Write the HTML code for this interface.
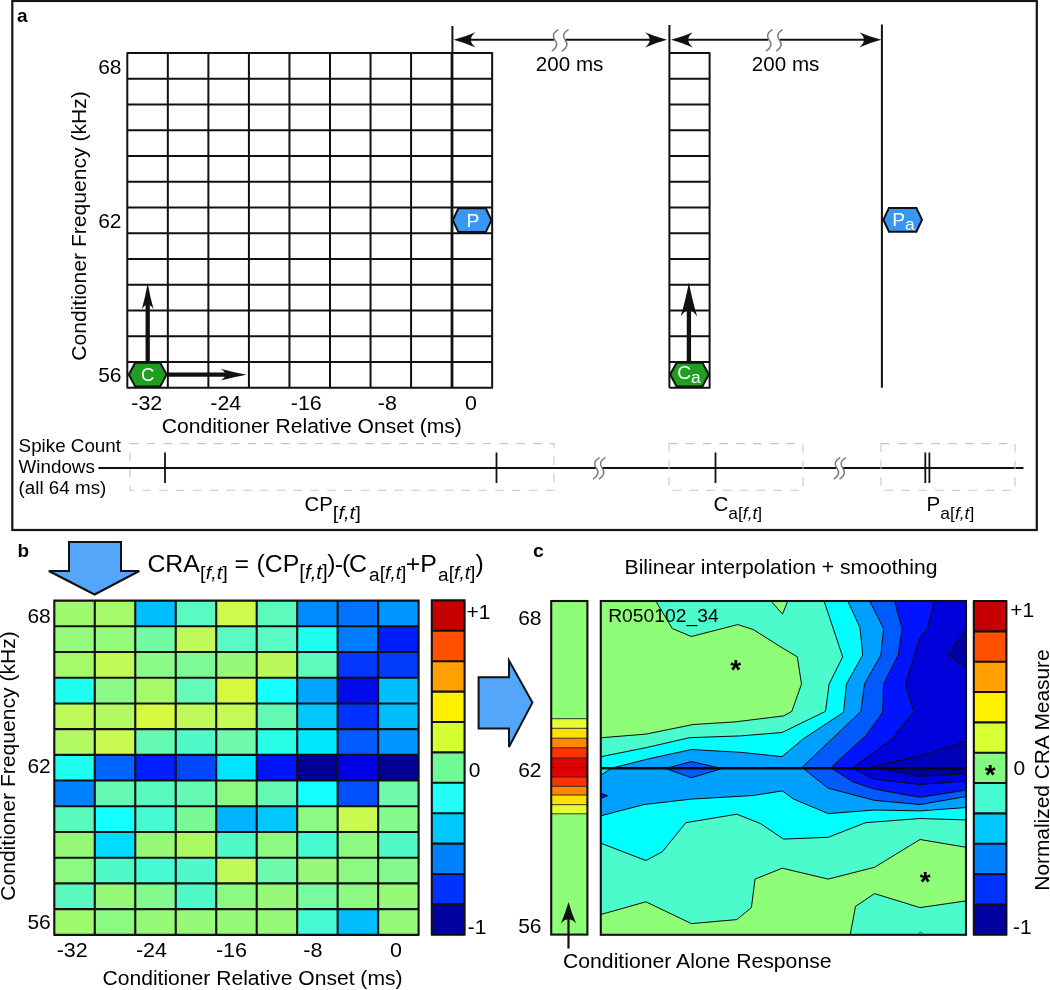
<!DOCTYPE html>
<html lang="en"><head><meta charset="utf-8"><title>Figure</title>
<style>html,body{margin:0;padding:0;background:#fff}svg{display:block}text{font-family:"Liberation Sans", Arial, sans-serif;fill:#000}</style></head><body>
<svg width="1050" height="990" viewBox="0 0 1050 990">
<rect x="0" y="0" width="1050" height="990" fill="#fff"/>
<g id="panel-a">
<rect x="12.3" y="1" width="1024.5" height="529" fill="none" stroke="#151515" stroke-width="2.2"/>
<text transform="translate(17.0 22.0) scale(1.050 1)" font-size="18.10" text-anchor="start" font-weight="bold">a</text>
<path d="M127.30 52.90V387.65M167.84 52.90V387.65M208.38 52.90V387.65M248.92 52.90V387.65M289.46 52.90V387.65M330.00 52.90V387.65M370.54 52.90V387.65M411.08 52.90V387.65M451.62 52.90V387.65M492.16 52.90V387.65M126.55 52.90H492.91M126.55 78.65H492.91M126.55 104.40H492.91M126.55 130.15H492.91M126.55 155.90H492.91M126.55 181.65H492.91M126.55 207.40H492.91M126.55 233.15H492.91M126.55 258.90H492.91M126.55 284.65H492.91M126.55 310.40H492.91M126.55 336.15H492.91M126.55 361.90H492.91M126.55 387.65H492.91" fill="none" stroke="#111" stroke-width="2.0"/>
<path d="M709.60 52.90V387.65M669.40 52.90H710.35M669.40 78.65H710.35M669.40 104.40H710.35M669.40 130.15H710.35M669.40 155.90H710.35M669.40 181.65H710.35M669.40 207.40H710.35M669.40 233.15H710.35M669.40 258.90H710.35M669.40 284.65H710.35M669.40 310.40H710.35M669.40 336.15H710.35M669.40 361.90H710.35M669.40 387.65H710.35" fill="none" stroke="#111" stroke-width="2.0"/>
<path d="M452.4 26V387.65M669.40 25V387.65M881.9 24.5V387.65" fill="none" stroke="#111" stroke-width="2.0"/>
<path d="M470.1 39.8H650.5" stroke="#111" stroke-width="2.0" fill="none"/>
<path d="M453.60 39.80Q465.70 36.53 475.60 32.20Q470.30 36.38 471.10 39.80Q470.30 43.22 475.60 47.40Q465.70 43.07 453.60 39.80Z" fill="#111"/>
<path d="M667.00 39.80Q654.90 43.07 645.00 47.40Q650.30 43.22 649.50 39.80Q650.30 36.38 645.00 32.20Q654.90 36.53 667.00 39.80Z" fill="#111"/>
<path d="M687.5 39.8H864.7" stroke="#111" stroke-width="2.0" fill="none"/>
<path d="M671.00 39.80Q683.10 36.53 693.00 32.20Q687.70 36.38 688.50 39.80Q687.70 43.22 693.00 47.40Q683.10 43.07 671.00 39.80Z" fill="#111"/>
<path d="M881.20 39.80Q869.10 43.07 859.20 47.40Q864.50 43.22 863.70 39.80Q864.50 36.38 859.20 32.20Q869.10 36.53 881.20 39.80Z" fill="#111"/>
<rect x="554.0" y="36" width="11.6" height="8" fill="#fff"/>
<path d="M557.8 29.8C552.8 32.8 552.4 36.8 554.8 39.8C557.8 43.8 557.4 47.3 552.2 50.8" fill="none" stroke="#7c7c7c" stroke-width="1.5" stroke-linecap="round"/>
<path d="M568.0 29.8C563.0 32.8 562.6 36.8 565.0 39.8C568.0 43.8 567.6 47.3 562.4 50.8" fill="none" stroke="#7c7c7c" stroke-width="1.5" stroke-linecap="round"/>
<rect x="768.2" y="36" width="11.6" height="8" fill="#fff"/>
<path d="M772.0 29.8C767.0 32.8 766.6 36.8 769.0 39.8C772.0 43.8 771.6 47.3 766.4 50.8" fill="none" stroke="#7c7c7c" stroke-width="1.5" stroke-linecap="round"/>
<path d="M782.2 29.8C777.2 32.8 776.8 36.8 779.2 39.8C782.2 43.8 781.8 47.3 776.6 50.8" fill="none" stroke="#7c7c7c" stroke-width="1.5" stroke-linecap="round"/>
<text transform="translate(569.6 71.0) scale(1.050 1)" font-size="19.62" text-anchor="middle" >200 ms</text>
<text transform="translate(785.6 71.0) scale(1.050 1)" font-size="19.62" text-anchor="middle" >200 ms</text>
<path d="M452.8 220.2L458.4 208.3H485.8L491.4 220.2L485.8 232.1H458.4Z" fill="#3897f3" stroke="#111" stroke-width="2.0" stroke-linejoin="miter"/>
<text transform="translate(472.9 227.0) scale(1.050 1)" font-size="18.48" text-anchor="middle" style="fill:#fff">P</text>
<path d="M883.4 219.8L889.0 207.9H916.4L922.0 219.8L916.4 231.7H889.0Z" fill="#3897f3" stroke="#111" stroke-width="2.0" stroke-linejoin="miter"/>
<text transform="translate(892.3 225.7) scale(1.050 1)" font-size="18.29" text-anchor="start" style="fill:#fff">P<tspan dy="3.8" font-size="16.6">a</tspan></text>
<path d="M128.8 374.6L135.2 362.8H160.2L166.6 374.6L160.2 386.4H135.2Z" fill="#1f9f1f" stroke="#111" stroke-width="2.0" stroke-linejoin="miter"/>
<text transform="translate(147.7 381.3) scale(1.050 1)" font-size="17.62" text-anchor="middle" style="fill:#fff">C</text>
<path d="M147.7 362.5V303.8" stroke="#111" stroke-width="4.3" fill="none"/>
<path d="M147.70 283.30Q150.24 297.60 153.60 309.30Q150.35 304.00 147.70 304.80Q145.04 304.00 141.80 309.30Q145.16 297.60 147.70 283.30Z" fill="#111"/>
<path d="M167 374.7H226" stroke="#111" stroke-width="4.3" fill="none"/>
<path d="M246.50 374.70Q232.20 377.24 220.50 380.60Q225.80 377.35 225.00 374.70Q225.80 372.05 220.50 368.80Q232.20 372.16 246.50 374.70Z" fill="#111"/>
<path d="M670.2 374.6L676.6 362.8H702.4L708.8 374.6L702.4 386.4H676.6Z" fill="#1f9f1f" stroke="#111" stroke-width="2.0" stroke-linejoin="miter"/>
<text transform="translate(677.2 379.4) scale(1.050 1)" font-size="18.29" text-anchor="start" style="fill:#fff">C<tspan dy="3.8" font-size="16.6">a</tspan></text>
<path d="M688.9 362.5V309.5" stroke="#111" stroke-width="4.3" fill="none"/>
<path d="M688.90 282.50Q692.47 301.20 697.20 316.50Q692.63 309.70 688.90 310.50Q685.16 309.70 680.60 316.50Q685.33 301.20 688.90 282.50Z" fill="#111"/>
<text transform="translate(121.5 73.5) scale(1.050 1)" font-size="20.00" text-anchor="end" >68</text>
<text transform="translate(121.5 228.0) scale(1.050 1)" font-size="20.00" text-anchor="end" >62</text>
<text transform="translate(121.5 382.0) scale(1.050 1)" font-size="20.00" text-anchor="end" >56</text>
<text transform="translate(146.7 409.8) scale(1.050 1)" font-size="20.38" text-anchor="middle" >-32</text>
<text transform="translate(225.7 409.8) scale(1.050 1)" font-size="20.38" text-anchor="middle" >-24</text>
<text transform="translate(306.2 409.8) scale(1.050 1)" font-size="20.38" text-anchor="middle" >-16</text>
<text transform="translate(387.3 409.8) scale(1.050 1)" font-size="20.38" text-anchor="middle" >-8</text>
<text transform="translate(470.9 409.8) scale(1.050 1)" font-size="20.38" text-anchor="middle" >0</text>
<text transform="translate(311.8 432.6) scale(1.050 1)" font-size="20.10" text-anchor="middle" >Conditioner Relative Onset (ms)</text>
<text transform="translate(85.6 226.0) rotate(-90) scale(1.050 1)" font-size="20.10" text-anchor="middle">Conditioner Frequency (kHz)</text>
<text transform="translate(18.6 451.6) scale(1.050 1)" font-size="17.90" text-anchor="start" >Spike Count</text>
<text transform="translate(18.6 472.9) scale(1.050 1)" font-size="17.90" text-anchor="start" >Windows</text>
<text transform="translate(18.6 494.1) scale(1.050 1)" font-size="17.90" text-anchor="start" >(all 64 ms)</text>
<path d="M98.3 468H1023.5" stroke="#111" stroke-width="1.9" fill="none"/>
<path d="M165 452.5V483M496.5 452.5V483M715.5 452.5V483M925.3 452.5V483M929.4 452.5V483" stroke="#111" stroke-width="1.8" fill="none"/>
<rect x="130.0" y="443.6" width="424.0" height="46.6" fill="none" stroke="#c6c6c6" stroke-width="1.1" stroke-dasharray="8.6 8.2"/>
<rect x="669.0" y="443.6" width="134.0" height="46.6" fill="none" stroke="#c6c6c6" stroke-width="1.1" stroke-dasharray="8.6 8.2"/>
<rect x="881.0" y="443.6" width="134.0" height="46.6" fill="none" stroke="#c6c6c6" stroke-width="1.1" stroke-dasharray="8.6 8.2"/>
<rect x="596.2" y="465" width="6" height="6" fill="#fff"/>
<path d="M599.1 457.8C594.1 460.8 593.7 464.8 596.1 467.8C599.1 471.8 598.7 475.3 593.5 478.8" fill="none" stroke="#7c7c7c" stroke-width="1.5" stroke-linecap="round"/>
<path d="M604.9 457.8C599.9 460.8 599.5 464.8 601.9 467.8C604.9 471.8 604.5 475.3 599.3 478.8" fill="none" stroke="#7c7c7c" stroke-width="1.5" stroke-linecap="round"/>
<rect x="836.8" y="465" width="6" height="6" fill="#fff"/>
<path d="M839.7 457.8C834.7 460.8 834.3 464.8 836.7 467.8C839.7 471.8 839.3 475.3 834.1 478.8" fill="none" stroke="#7c7c7c" stroke-width="1.5" stroke-linecap="round"/>
<path d="M845.5 457.8C840.5 460.8 840.1 464.8 842.5 467.8C845.5 471.8 845.1 475.3 839.9 478.8" fill="none" stroke="#7c7c7c" stroke-width="1.5" stroke-linecap="round"/>
<text transform="translate(304.6 511.4) scale(1.050 1)" font-size="19.33" text-anchor="start" >CP<tspan dy="7.5" font-size="19.2">[<tspan font-style="italic">f,t</tspan>]</tspan></text>
<text transform="translate(713.4 511.2) scale(1.050 1)" font-size="19.62" text-anchor="start" >C<tspan dy="8.2" font-size="16.6">a[<tspan font-style="italic">f,t</tspan>]</tspan></text>
<text transform="translate(926.6 511.2) scale(1.050 1)" font-size="19.62" text-anchor="start" >P<tspan dy="8.2" font-size="16.6">a[<tspan font-style="italic">f,t</tspan>]</tspan></text>
</g>
<g id="panel-b">
<text transform="translate(17.5 557.0) scale(1.050 1)" font-size="18.10" text-anchor="start" font-weight="bold">b</text>
<path d="M69 542H121V571H139.3L94.6 594.5L48.8 571H69Z" fill="#54a6fb" stroke="#111" stroke-width="2.0" stroke-linejoin="miter"/>
<text id="eq" transform="scale(1.045 1)" font-size="23.83"><tspan x="141.05" y="572.4">CRA</tspan><tspan x="191.48" y="578.8" font-size="19.04">[<tspan font-style="italic">f,t</tspan>]</tspan><tspan x="224.50" y="572.4">=</tspan><tspan x="245.45" y="572.4">(CP</tspan><tspan x="286.32" y="578.8" font-size="19.71">[<tspan font-style="italic">f,t</tspan>]</tspan><tspan x="313.21" y="572.4">)</tspan><tspan x="320.29" y="572.4">-</tspan><tspan x="327.18" y="572.4">(</tspan><tspan x="334.07" y="572.4">C</tspan><tspan x="353.21" y="581.2" font-size="18.18">a</tspan><tspan y="578.8" font-size="18.47">[<tspan font-style="italic">f,t</tspan>]</tspan><tspan x="388.33" y="572.4">+P</tspan><tspan x="419.23" y="581.2" font-size="18.18">a</tspan><tspan y="578.8" font-size="18.47">[<tspan font-style="italic">f,t</tspan>]</tspan><tspan x="455.02" y="572.4">)</tspan></text>
<rect x="54.30" y="600.60" width="40.78" height="26.01" fill="#a0fa6e"/>
<rect x="94.78" y="600.60" width="40.78" height="26.01" fill="#a5fa69"/>
<rect x="135.26" y="600.60" width="40.78" height="26.01" fill="#00beff"/>
<rect x="175.74" y="600.60" width="40.78" height="26.01" fill="#5afac3"/>
<rect x="216.22" y="600.60" width="40.78" height="26.01" fill="#cdfa4b"/>
<rect x="256.70" y="600.60" width="40.78" height="26.01" fill="#5ffabe"/>
<rect x="297.18" y="600.60" width="40.78" height="26.01" fill="#008cff"/>
<rect x="337.66" y="600.60" width="40.78" height="26.01" fill="#0073ff"/>
<rect x="378.14" y="600.60" width="40.78" height="26.01" fill="#0096ff"/>
<rect x="54.30" y="626.31" width="40.78" height="26.01" fill="#96fa7d"/>
<rect x="94.78" y="626.31" width="40.78" height="26.01" fill="#96fa7d"/>
<rect x="135.26" y="626.31" width="40.78" height="26.01" fill="#73faa5"/>
<rect x="175.74" y="626.31" width="40.78" height="26.01" fill="#befa5a"/>
<rect x="216.22" y="626.31" width="40.78" height="26.01" fill="#5afac3"/>
<rect x="256.70" y="626.31" width="40.78" height="26.01" fill="#5afac3"/>
<rect x="297.18" y="626.31" width="40.78" height="26.01" fill="#1efff0"/>
<rect x="337.66" y="626.31" width="40.78" height="26.01" fill="#007dff"/>
<rect x="378.14" y="626.31" width="40.78" height="26.01" fill="#001efa"/>
<rect x="54.30" y="652.02" width="40.78" height="26.01" fill="#a5fa69"/>
<rect x="94.78" y="652.02" width="40.78" height="26.01" fill="#befa55"/>
<rect x="135.26" y="652.02" width="40.78" height="26.01" fill="#8cfa87"/>
<rect x="175.74" y="652.02" width="40.78" height="26.01" fill="#7dfa96"/>
<rect x="216.22" y="652.02" width="40.78" height="26.01" fill="#96fa78"/>
<rect x="256.70" y="652.02" width="40.78" height="26.01" fill="#b9fa5a"/>
<rect x="297.18" y="652.02" width="40.78" height="26.01" fill="#5ffabe"/>
<rect x="337.66" y="652.02" width="40.78" height="26.01" fill="#0037fa"/>
<rect x="378.14" y="652.02" width="40.78" height="26.01" fill="#003cfa"/>
<rect x="54.30" y="677.73" width="40.78" height="26.01" fill="#1efff0"/>
<rect x="94.78" y="677.73" width="40.78" height="26.01" fill="#8cfa87"/>
<rect x="135.26" y="677.73" width="40.78" height="26.01" fill="#a5fa69"/>
<rect x="175.74" y="677.73" width="40.78" height="26.01" fill="#64fab9"/>
<rect x="216.22" y="677.73" width="40.78" height="26.01" fill="#d7fa41"/>
<rect x="256.70" y="677.73" width="40.78" height="26.01" fill="#14ffff"/>
<rect x="297.18" y="677.73" width="40.78" height="26.01" fill="#00a5ff"/>
<rect x="337.66" y="677.73" width="40.78" height="26.01" fill="#000aeb"/>
<rect x="378.14" y="677.73" width="40.78" height="26.01" fill="#00beff"/>
<rect x="54.30" y="703.44" width="40.78" height="26.01" fill="#befa5a"/>
<rect x="94.78" y="703.44" width="40.78" height="26.01" fill="#b4fa64"/>
<rect x="135.26" y="703.44" width="40.78" height="26.01" fill="#d7fa41"/>
<rect x="175.74" y="703.44" width="40.78" height="26.01" fill="#befa5a"/>
<rect x="216.22" y="703.44" width="40.78" height="26.01" fill="#c3fa55"/>
<rect x="256.70" y="703.44" width="40.78" height="26.01" fill="#64fab4"/>
<rect x="297.18" y="703.44" width="40.78" height="26.01" fill="#00c8ff"/>
<rect x="337.66" y="703.44" width="40.78" height="26.01" fill="#0032ff"/>
<rect x="378.14" y="703.44" width="40.78" height="26.01" fill="#00beff"/>
<rect x="54.30" y="729.15" width="40.78" height="26.01" fill="#b4fa64"/>
<rect x="94.78" y="729.15" width="40.78" height="26.01" fill="#c8fa50"/>
<rect x="135.26" y="729.15" width="40.78" height="26.01" fill="#64fab4"/>
<rect x="175.74" y="729.15" width="40.78" height="26.01" fill="#50fac8"/>
<rect x="216.22" y="729.15" width="40.78" height="26.01" fill="#6efaaa"/>
<rect x="256.70" y="729.15" width="40.78" height="26.01" fill="#28ffe6"/>
<rect x="297.18" y="729.15" width="40.78" height="26.01" fill="#00e6ff"/>
<rect x="337.66" y="729.15" width="40.78" height="26.01" fill="#005aff"/>
<rect x="378.14" y="729.15" width="40.78" height="26.01" fill="#0096ff"/>
<rect x="54.30" y="754.86" width="40.78" height="26.01" fill="#1efff0"/>
<rect x="94.78" y="754.86" width="40.78" height="26.01" fill="#0064ff"/>
<rect x="135.26" y="754.86" width="40.78" height="26.01" fill="#001eff"/>
<rect x="175.74" y="754.86" width="40.78" height="26.01" fill="#0046ff"/>
<rect x="216.22" y="754.86" width="40.78" height="26.01" fill="#00e6ff"/>
<rect x="256.70" y="754.86" width="40.78" height="26.01" fill="#0014fa"/>
<rect x="297.18" y="754.86" width="40.78" height="26.01" fill="#000096"/>
<rect x="337.66" y="754.86" width="40.78" height="26.01" fill="#0000e6"/>
<rect x="378.14" y="754.86" width="40.78" height="26.01" fill="#000096"/>
<rect x="54.30" y="780.57" width="40.78" height="26.01" fill="#0082ff"/>
<rect x="94.78" y="780.57" width="40.78" height="26.01" fill="#64fab4"/>
<rect x="135.26" y="780.57" width="40.78" height="26.01" fill="#5afabe"/>
<rect x="175.74" y="780.57" width="40.78" height="26.01" fill="#64fab4"/>
<rect x="216.22" y="780.57" width="40.78" height="26.01" fill="#8cfa82"/>
<rect x="256.70" y="780.57" width="40.78" height="26.01" fill="#64fab4"/>
<rect x="297.18" y="780.57" width="40.78" height="26.01" fill="#14ffff"/>
<rect x="337.66" y="780.57" width="40.78" height="26.01" fill="#0050ff"/>
<rect x="378.14" y="780.57" width="40.78" height="26.01" fill="#6efaaa"/>
<rect x="54.30" y="806.28" width="40.78" height="26.01" fill="#5afabe"/>
<rect x="94.78" y="806.28" width="40.78" height="26.01" fill="#14ffff"/>
<rect x="135.26" y="806.28" width="40.78" height="26.01" fill="#46fad2"/>
<rect x="175.74" y="806.28" width="40.78" height="26.01" fill="#78fa96"/>
<rect x="216.22" y="806.28" width="40.78" height="26.01" fill="#00b4ff"/>
<rect x="256.70" y="806.28" width="40.78" height="26.01" fill="#00c8ff"/>
<rect x="297.18" y="806.28" width="40.78" height="26.01" fill="#8cfa82"/>
<rect x="337.66" y="806.28" width="40.78" height="26.01" fill="#c8fa50"/>
<rect x="378.14" y="806.28" width="40.78" height="26.01" fill="#82fa8c"/>
<rect x="54.30" y="831.99" width="40.78" height="26.01" fill="#96fa78"/>
<rect x="94.78" y="831.99" width="40.78" height="26.01" fill="#00dcff"/>
<rect x="135.26" y="831.99" width="40.78" height="26.01" fill="#96fa78"/>
<rect x="175.74" y="831.99" width="40.78" height="26.01" fill="#aafa64"/>
<rect x="216.22" y="831.99" width="40.78" height="26.01" fill="#50fac8"/>
<rect x="256.70" y="831.99" width="40.78" height="26.01" fill="#8cfa82"/>
<rect x="297.18" y="831.99" width="40.78" height="26.01" fill="#46fad2"/>
<rect x="337.66" y="831.99" width="40.78" height="26.01" fill="#8cfa82"/>
<rect x="378.14" y="831.99" width="40.78" height="26.01" fill="#50fac8"/>
<rect x="54.30" y="857.70" width="40.78" height="26.01" fill="#8cfa82"/>
<rect x="94.78" y="857.70" width="40.78" height="26.01" fill="#50fac8"/>
<rect x="135.26" y="857.70" width="40.78" height="26.01" fill="#46fad2"/>
<rect x="175.74" y="857.70" width="40.78" height="26.01" fill="#50fac8"/>
<rect x="216.22" y="857.70" width="40.78" height="26.01" fill="#befa5a"/>
<rect x="256.70" y="857.70" width="40.78" height="26.01" fill="#6efaaa"/>
<rect x="297.18" y="857.70" width="40.78" height="26.01" fill="#96fa78"/>
<rect x="337.66" y="857.70" width="40.78" height="26.01" fill="#8cfa82"/>
<rect x="378.14" y="857.70" width="40.78" height="26.01" fill="#82fa8c"/>
<rect x="54.30" y="883.41" width="40.78" height="26.01" fill="#5afabe"/>
<rect x="94.78" y="883.41" width="40.78" height="26.01" fill="#96fa78"/>
<rect x="135.26" y="883.41" width="40.78" height="26.01" fill="#82fa8c"/>
<rect x="175.74" y="883.41" width="40.78" height="26.01" fill="#50fac8"/>
<rect x="216.22" y="883.41" width="40.78" height="26.01" fill="#8cfa82"/>
<rect x="256.70" y="883.41" width="40.78" height="26.01" fill="#96fa78"/>
<rect x="297.18" y="883.41" width="40.78" height="26.01" fill="#78faa0"/>
<rect x="337.66" y="883.41" width="40.78" height="26.01" fill="#8cfa82"/>
<rect x="378.14" y="883.41" width="40.78" height="26.01" fill="#96fa78"/>
<rect x="54.30" y="909.12" width="40.78" height="26.01" fill="#a0fa6e"/>
<rect x="94.78" y="909.12" width="40.78" height="26.01" fill="#8cfa82"/>
<rect x="135.26" y="909.12" width="40.78" height="26.01" fill="#96fa78"/>
<rect x="175.74" y="909.12" width="40.78" height="26.01" fill="#96fa78"/>
<rect x="216.22" y="909.12" width="40.78" height="26.01" fill="#96fa78"/>
<rect x="256.70" y="909.12" width="40.78" height="26.01" fill="#96fa78"/>
<rect x="297.18" y="909.12" width="40.78" height="26.01" fill="#46fad2"/>
<rect x="337.66" y="909.12" width="40.78" height="26.01" fill="#00beff"/>
<rect x="378.14" y="909.12" width="40.78" height="26.01" fill="#96fa78"/>
<path d="M54.30 600.60V934.83M94.78 600.60V934.83M135.26 600.60V934.83M175.74 600.60V934.83M216.22 600.60V934.83M256.70 600.60V934.83M297.18 600.60V934.83M337.66 600.60V934.83M378.14 600.60V934.83M418.62 600.60V934.83M53.40 600.60H419.52M53.40 626.31H419.52M53.40 652.02H419.52M53.40 677.73H419.52M53.40 703.44H419.52M53.40 729.15H419.52M53.40 754.86H419.52M53.40 780.57H419.52M53.40 806.28H419.52M53.40 831.99H419.52M53.40 857.70H419.52M53.40 883.41H419.52M53.40 909.12H419.52M53.40 934.83H419.52" fill="none" stroke="#111" stroke-width="2.1"/>
<rect x="431.80" y="600.40" width="32.80" height="30.70" fill="#c60000"/>
<rect x="431.80" y="630.80" width="32.80" height="30.70" fill="#ff5000"/>
<rect x="431.80" y="661.20" width="32.80" height="30.70" fill="#ffa000"/>
<rect x="431.80" y="691.60" width="32.80" height="30.70" fill="#fff000"/>
<rect x="431.80" y="722.00" width="32.80" height="30.70" fill="#d4ff32"/>
<rect x="431.80" y="752.40" width="32.80" height="30.70" fill="#70fa96"/>
<rect x="431.80" y="782.80" width="32.80" height="30.70" fill="#23fff8"/>
<rect x="431.80" y="813.20" width="32.80" height="30.70" fill="#00c8ff"/>
<rect x="431.80" y="843.60" width="32.80" height="30.70" fill="#0082ff"/>
<rect x="431.80" y="874.00" width="32.80" height="30.70" fill="#0032ff"/>
<rect x="431.80" y="904.40" width="32.80" height="30.70" fill="#0000a0"/>
<path d="M431.80 600.40V934.80M464.60 600.40V934.80M430.90 600.40H465.50M430.90 630.80H465.50M430.90 661.20H465.50M430.90 691.60H465.50M430.90 722.00H465.50M430.90 752.40H465.50M430.90 782.80H465.50M430.90 813.20H465.50M430.90 843.60H465.50M430.90 874.00H465.50M430.90 904.40H465.50M430.90 934.80H465.50" fill="none" stroke="#111" stroke-width="2.1"/>
<text transform="translate(466.6 618.9) scale(1.050 1)" font-size="20.00" text-anchor="start" >+1</text>
<text transform="translate(468.8 776.6) scale(1.050 1)" font-size="20.00" text-anchor="start" >0</text>
<text transform="translate(467.8 934.2) scale(1.050 1)" font-size="20.00" text-anchor="start" >-1</text>
<text transform="translate(50.8 623.0) scale(1.050 1)" font-size="20.00" text-anchor="end" >68</text>
<text transform="translate(50.8 773.4) scale(1.050 1)" font-size="20.00" text-anchor="end" >62</text>
<text transform="translate(50.8 929.3) scale(1.050 1)" font-size="20.00" text-anchor="end" >56</text>
<text transform="translate(72.2 956.8) scale(1.050 1)" font-size="20.48" text-anchor="middle" >-32</text>
<text transform="translate(151.5 956.8) scale(1.050 1)" font-size="20.48" text-anchor="middle" >-24</text>
<text transform="translate(231.5 956.8) scale(1.050 1)" font-size="20.48" text-anchor="middle" >-16</text>
<text transform="translate(312.9 956.8) scale(1.050 1)" font-size="20.48" text-anchor="middle" >-8</text>
<text transform="translate(395.9 956.8) scale(1.050 1)" font-size="20.48" text-anchor="middle" >0</text>
<text transform="translate(252.5 984.8) scale(1.050 1)" font-size="20.10" text-anchor="middle" >Conditioner Relative Onset (ms)</text>
<text transform="translate(15.0 766.0) rotate(-90) scale(1.050 1)" font-size="20.10" text-anchor="middle">Conditioner Frequency (kHz)</text>
<path d="M478.6 677.2H509V660.6L532.4 702.6L509 747V728.4H478.6Z" fill="#54a6fb" stroke="#111" stroke-width="2.0" stroke-linejoin="miter"/>
</g>
<g id="panel-c">
<text transform="translate(533.0 556.5) scale(1.050 1)" font-size="18.57" text-anchor="start" font-weight="bold">c</text>
<text transform="translate(781.0 574.2) scale(1.050 1)" font-size="20.14" text-anchor="middle" >Bilinear interpolation + smoothing</text>
<rect x="551.20" y="601.00" width="36.20" height="118.00" fill="#8efd78"/>
<rect x="551.20" y="718.70" width="36.20" height="9.90" fill="#e6ff32"/>
<rect x="551.20" y="728.30" width="36.20" height="10.20" fill="#ffe100"/>
<rect x="551.20" y="738.20" width="36.20" height="9.90" fill="#ff8700"/>
<rect x="551.20" y="747.80" width="36.20" height="10.50" fill="#ff3200"/>
<rect x="551.20" y="758.00" width="36.20" height="9.90" fill="#e20000"/>
<rect x="551.20" y="767.60" width="36.20" height="9.80" fill="#e20000"/>
<rect x="551.20" y="777.10" width="36.20" height="9.50" fill="#ff3200"/>
<rect x="551.20" y="786.30" width="36.20" height="9.00" fill="#ff8700"/>
<rect x="551.20" y="795.00" width="36.20" height="10.00" fill="#ffe100"/>
<rect x="551.20" y="804.70" width="36.20" height="9.40" fill="#e6ff32"/>
<rect x="551.20" y="813.80" width="36.20" height="121.10" fill="#8efd78"/>
<path d="M551.20 718.70H587.40M551.20 728.30H587.40M551.20 738.20H587.40M551.20 747.80H587.40M551.20 758.00H587.40M551.20 767.60H587.40M551.20 777.10H587.40M551.20 786.30H587.40M551.20 795.00H587.40M551.20 804.70H587.40M551.20 813.80H587.40" fill="none" stroke="#222" stroke-width="0.9"/>
<path d="M551.20 767.6H587.40" stroke="#b00000" stroke-width="1"/>
<rect x="551.20" y="601.00" width="36.20" height="333.60" fill="none" stroke="#111" stroke-width="2.1"/>
<clipPath id="cu"><rect x="600.80" y="601.00" width="365.20" height="167.30"/></clipPath>
<clipPath id="cl"><rect x="600.80" y="768.30" width="365.20" height="166.50"/></clipPath>
<g clip-path="url(#cu)">
<rect x="598.8" y="599.0" width="369.2" height="171.3" fill="#0000da"/>
<path d="M968.0 625.9L948.2 655.0L968.0 669.5Z" fill="#0000a6" stroke="#0a0a0a" stroke-width="1.0" stroke-linejoin="round"/>
<path d="M968.0 740.5L922.9 755.4L875.7 765.9L866.0 769.3L968.0 769.3Z" fill="#0000ba" stroke="#0a0a0a" stroke-width="1.0" stroke-linejoin="round"/>
<path d="M598.8 599.0L934.8 599.0L927.3 628.6L919.1 639.5L905.5 684.1L913.6 711.4L892.7 738.6L850.9 769.3L598.8 769.3Z" fill="#0014ff" stroke="#0a0a0a" stroke-width="1.0" stroke-linejoin="round"/>
<path d="M598.8 599.0L894.0 599.0L902.2 628.6L898.2 655.0L883.6 684.1L882.7 712.3L866.4 735.0L829.1 769.3L598.8 769.3Z" fill="#005aff" stroke="#0a0a0a" stroke-width="1.0" stroke-linejoin="round"/>
<path d="M598.8 599.0L868.6 599.0L883.6 628.6L880.9 655.0L864.5 684.1L860.9 711.4L800.0 769.3L598.8 769.3Z" fill="#00a0ff" stroke="#0a0a0a" stroke-width="1.0" stroke-linejoin="round"/>
<path d="M662.3 769.3L691.4 761.6L725.9 769.3Z" fill="#005aff" stroke="#0a0a0a" stroke-width="1.0" stroke-linejoin="round"/>
<path d="M598.8 599.0L846.8 599.0L860.0 627.7L862.7 655.0L846.4 684.1L843.6 712.3L803.6 738.6L782.0 756.6L740.5 752.3L691.4 749.5L649.5 758.6L613.2 767.7L611.0 769.3L598.8 769.3Z" fill="#00ffff" stroke="#0a0a0a" stroke-width="1.0" stroke-linejoin="round"/>
<path d="M598.8 599.0L823.4 599.0L842.7 656.8L829.1 684.1L825.5 711.4L782.0 732.5L740.5 735.9L689.5 737.7L645.9 747.7L601.9 756.5L598.8 757.0Z" fill="#4cfbcc" stroke="#0a0a0a" stroke-width="1.0" stroke-linejoin="round"/>
<path d="M598.8 599.0L654.6 599.0L672.3 628.6L691.4 636.5L737.7 624.6L753.2 629.5L780.0 646.5L797.3 656.8L801.5 684.1L791.8 711.4L783.6 715.9L735.0 721.9L693.2 724.5L645.9 734.1L601.9 737.7L598.8 738.0Z" fill="#8efd78" stroke="#0a0a0a" stroke-width="1.0" stroke-linejoin="round"/>
<path d="M769.2 599.0L782.5 614.1L788.6 599.0Z" fill="#8efd78" stroke="#0a0a0a" stroke-width="1.0" stroke-linejoin="round"/>
</g>
<g clip-path="url(#cl)">
<rect x="598.8" y="767.3" width="369.2" height="170.5" fill="#4cfbcc"/>
<path d="M598.8 914.6L601.9 914.2L645.9 901.8L691.4 923.6L736.8 919.6L751.4 907.6L755.0 879.1L782.3 868.2L828.2 879.1L874.5 867.3L920.0 839.5L968.0 847.6L968.0 900.6L920.0 907.6L874.5 893.6L855.5 906.4L849.8 936.8L598.8 936.8Z" fill="#8efd78" stroke="#0a0a0a" stroke-width="1.0" stroke-linejoin="round"/>
<path d="M598.8 767.3L968.0 767.3L968.0 820.0L920.0 818.5L865.5 822.7L828.2 837.3L783.6 839.1L760.5 823.6L736.8 814.2L685.9 822.7L662.3 851.8L645.9 860.5L601.9 843.6L598.8 843.0Z" fill="#00ffff" stroke="#0a0a0a" stroke-width="1.0" stroke-linejoin="round"/>
<path d="M613.2 767.3L968.0 767.3L968.0 807.4L920.0 810.9L874.5 810.0L828.2 813.6L793.6 799.1L782.3 790.9L753.2 795.5L691.4 799.1L644.1 804.5L601.9 815.5L598.8 816.0L598.8 775.5L601.9 774.5Z" fill="#00a0ff" stroke="#0a0a0a" stroke-width="1.0" stroke-linejoin="round"/>
<path d="M801.8 767.3L828.2 788.2L874.5 800.4L920.0 804.5L968.0 796.2L968.0 767.3Z" fill="#005aff" stroke="#0a0a0a" stroke-width="1.0" stroke-linejoin="round"/>
<path d="M830.0 767.3L852.7 781.8L874.5 789.1L920.0 797.3L968.0 789.8L968.0 767.3Z" fill="#0014ff" stroke="#0a0a0a" stroke-width="1.0" stroke-linejoin="round"/>
<path d="M850.9 767.3L874.5 779.1L920.0 784.5L968.0 780.8L968.0 767.3Z" fill="#0000da" stroke="#0a0a0a" stroke-width="1.0" stroke-linejoin="round"/>
<path d="M872.7 767.3L920.0 776.4L968.0 773.5L968.0 767.3Z" fill="#0000a6" stroke="#0a0a0a" stroke-width="1.0" stroke-linejoin="round"/>
<path d="M662.3 767.3L691.4 777.8L725.9 767.3Z" fill="#005aff" stroke="#0a0a0a" stroke-width="1.0" stroke-linejoin="round"/>
<path d="M598.8 792.2L607.7 795.8L598.8 799.0Z" fill="#0014ff" stroke="#0a0a0a" stroke-width="1.0" stroke-linejoin="round"/>
<path d="M915.0 936.8L920.5 932.2L926.0 936.8Z" fill="#8efd78" stroke="#0a0a0a" stroke-width="0.7" stroke-linejoin="round"/>
</g>
<path d="M600.80 768.30H966.00" stroke="#0a0a0a" stroke-width="2.4"/>
<rect x="600.80" y="601.00" width="365.20" height="333.80" fill="none" stroke="#111" stroke-width="2.1"/>
<text transform="translate(608.2 622.4) scale(1.050 1)" font-size="18.38" text-anchor="start" >R050102_34</text>
<text transform="translate(735.7 678.9) scale(1.000 1)" font-size="28.00" text-anchor="middle" font-weight="bold">*</text>
<text transform="translate(925.2 890.9) scale(1.000 1)" font-size="28.00" text-anchor="middle" font-weight="bold">*</text>
<rect x="973.80" y="601.00" width="32.60" height="30.65" fill="#c60000"/>
<rect x="973.80" y="631.35" width="32.60" height="30.65" fill="#ff5000"/>
<rect x="973.80" y="661.69" width="32.60" height="30.65" fill="#ffa000"/>
<rect x="973.80" y="692.04" width="32.60" height="30.65" fill="#fff000"/>
<rect x="973.80" y="722.38" width="32.60" height="30.65" fill="#d7ff32"/>
<rect x="973.80" y="752.73" width="32.60" height="30.65" fill="#82fa82"/>
<rect x="973.80" y="783.07" width="32.60" height="30.65" fill="#46fad2"/>
<rect x="973.80" y="813.42" width="32.60" height="30.65" fill="#00c8ff"/>
<rect x="973.80" y="843.76" width="32.60" height="30.65" fill="#0082ff"/>
<rect x="973.80" y="874.11" width="32.60" height="30.65" fill="#0032ff"/>
<rect x="973.80" y="904.45" width="32.60" height="30.65" fill="#0000a0"/>
<path d="M973.80 601.00V934.80M1006.40 601.00V934.80M972.90 601.00H1007.30M972.90 631.35H1007.30M972.90 661.69H1007.30M972.90 692.04H1007.30M972.90 722.38H1007.30M972.90 752.73H1007.30M972.90 783.07H1007.30M972.90 813.42H1007.30M972.90 843.76H1007.30M972.90 874.11H1007.30M972.90 904.45H1007.30M972.90 934.80H1007.30" fill="none" stroke="#111" stroke-width="2.1"/>
<text transform="translate(990.2 784.2) scale(1.000 1)" font-size="28.00" text-anchor="middle" font-weight="bold">*</text>
<text transform="translate(1010.2 617.2) scale(1.050 1)" font-size="20.00" text-anchor="start" >+1</text>
<text transform="translate(1013.4 774.5) scale(1.050 1)" font-size="20.00" text-anchor="start" >0</text>
<text transform="translate(1013.0 933.6) scale(1.050 1)" font-size="20.00" text-anchor="start" >-1</text>
<text transform="translate(1049.0 770.0) rotate(-90) scale(1.050 1)" font-size="19.90" text-anchor="middle">Normalized CRA Measure</text>
<text transform="translate(541.5 625.0) scale(1.050 1)" font-size="20.00" text-anchor="end" >68</text>
<text transform="translate(541.5 776.6) scale(1.050 1)" font-size="20.00" text-anchor="end" >62</text>
<text transform="translate(541.5 932.5) scale(1.050 1)" font-size="20.00" text-anchor="end" >56</text>
<path d="M568.5 948.5V918" stroke="#111" stroke-width="2.2" fill="none"/>
<path d="M568.50 902.00Q571.81 913.83 576.20 923.50Q571.97 918.70 568.50 919.50Q565.03 918.70 560.80 923.50Q565.19 913.83 568.50 902.00Z" fill="#111"/>
<text transform="translate(563.0 968.0) scale(1.050 1)" font-size="20.19" text-anchor="start" >Conditioner Alone Response</text>
</g>
</svg></body></html>
